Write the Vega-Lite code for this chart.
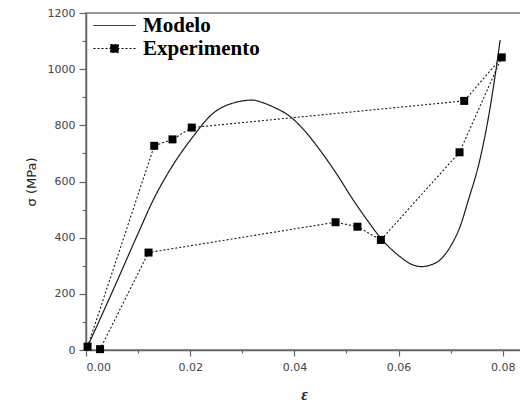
{
  "$schema": "https://vega.github.io/schema/vega-lite/v6.json",
  "width": 436,
  "height": 337,
  "autosize": "none",
  "padding": {"left": 86, "top": 13, "right": 0, "bottom": 57},
  "background": "white",
  "config": {
    "view": {"stroke": "#777", "strokeWidth": 1.5},
    "axis": {"grid": false, "domainColor": "#666", "domainWidth": 1.5, "tickColor": "#666", "tickWidth": 1.2, "labelFont": "DejaVu Sans", "labelFontSize": 11, "labelColor": "#444", "titleColor": "#222"}
  },
  "datasets": {
    "modelo": [
      {"eps": 0, "sigma": 0, "series": "Modelo"},
      {"eps": 0.005, "sigma": 205, "series": "Modelo"},
      {"eps": 0.01, "sigma": 415, "series": "Modelo"},
      {"eps": 0.0129, "sigma": 534, "series": "Modelo"},
      {"eps": 0.0161, "sigma": 641, "series": "Modelo"},
      {"eps": 0.0203, "sigma": 754, "series": "Modelo"},
      {"eps": 0.0244, "sigma": 843, "series": "Modelo"},
      {"eps": 0.028, "sigma": 878, "series": "Modelo"},
      {"eps": 0.0321, "sigma": 890, "series": "Modelo"},
      {"eps": 0.0334, "sigma": 884, "series": "Modelo"},
      {"eps": 0.036, "sigma": 865, "series": "Modelo"},
      {"eps": 0.0392, "sigma": 831, "series": "Modelo"},
      {"eps": 0.042, "sigma": 780, "series": "Modelo"},
      {"eps": 0.0449, "sigma": 712, "series": "Modelo"},
      {"eps": 0.048, "sigma": 630, "series": "Modelo"},
      {"eps": 0.0513, "sigma": 534, "series": "Modelo"},
      {"eps": 0.054, "sigma": 462, "series": "Modelo"},
      {"eps": 0.0566, "sigma": 398, "series": "Modelo"},
      {"eps": 0.0603, "sigma": 332, "series": "Modelo"},
      {"eps": 0.0625, "sigma": 305, "series": "Modelo"},
      {"eps": 0.0644, "sigma": 297, "series": "Modelo"},
      {"eps": 0.066, "sigma": 302, "series": "Modelo"},
      {"eps": 0.0679, "sigma": 320, "series": "Modelo"},
      {"eps": 0.07, "sigma": 370, "series": "Modelo"},
      {"eps": 0.0718, "sigma": 439, "series": "Modelo"},
      {"eps": 0.0734, "sigma": 534, "series": "Modelo"},
      {"eps": 0.0756, "sigma": 677, "series": "Modelo"},
      {"eps": 0.0775, "sigma": 855, "series": "Modelo"},
      {"eps": 0.0785, "sigma": 973, "series": "Modelo"},
      {"eps": 0.0795, "sigma": 1104, "series": "Modelo"}
    ],
    "exp": [
      {"eps": 0.0003, "sigma": 12, "ord": 1, "series": "Experimento"},
      {"eps": 0.0131, "sigma": 727, "ord": 2, "series": "Experimento"},
      {"eps": 0.0166, "sigma": 750, "ord": 3, "series": "Experimento"},
      {"eps": 0.0203, "sigma": 792, "ord": 4, "series": "Experimento"},
      {"eps": 0.0726, "sigma": 887, "ord": 5, "series": "Experimento"},
      {"eps": 0.0798, "sigma": 1042, "ord": 6, "series": "Experimento"},
      {"eps": 0.0717, "sigma": 704, "ord": 7, "series": "Experimento"},
      {"eps": 0.0566, "sigma": 392, "ord": 8, "series": "Experimento"},
      {"eps": 0.0521, "sigma": 439, "ord": 9, "series": "Experimento"},
      {"eps": 0.0479, "sigma": 455, "ord": 10, "series": "Experimento"},
      {"eps": 0.012, "sigma": 347, "ord": 11, "series": "Experimento"},
      {"eps": 0.0027, "sigma": 3, "ord": 12, "series": "Experimento"}
    ]
  },
  "layer": [
    {
      "data": {"name": "modelo"},
      "mark": {"type": "line", "interpolate": "monotone", "color": "#1a1a1a", "strokeWidth": 1.2},
      "encoding": {
        "x": {"field": "eps", "type": "quantitative", "scale": {"domain": [0, 0.08369], "nice": false, "zero": false},
          "axis": {"values": [0, 0.02, 0.04, 0.06, 0.08], "format": ".2f", "tickSize": 6, "labelPadding": 5, "title": "ε", "titleFont": "Liberation Serif", "titleFontStyle": "italic", "titleFontWeight": "bold", "titleFontSize": 16, "titlePadding": 14}},
        "y": {"field": "sigma", "type": "quantitative", "scale": {"domain": [0, 1200], "nice": false},
          "axis": {"values": [0, 200, 400, 600, 800, 1000, 1200], "format": "d", "tickSize": 7, "labelPadding": 4, "title": "σ (MPa)", "titleFont": "DejaVu Sans", "titleFontWeight": "normal", "titleFontSize": 13, "titlePadding": 9}},
        "strokeDash": {"field": "series", "type": "nominal",
          "scale": {"domain": ["Modelo", "Experimento"], "range": [[1, 0], [2, 2]]},
          "legend": {
            "title": null, "orient": "none", "legendX": 7, "legendY": 1.5, "padding": 0,
            "symbolSize": 441, "rowPadding": 2, "labelOffset": 28,
            "symbolStrokeColor": "black", "symbolStrokeWidth": 1,
            "labelFont": "Liberation Serif", "labelFontWeight": "bold", "labelFontSize": 21, "labelColor": "black",
            "encode": {"symbols": {"update": {
              "shape": {"signal": "datum.value == 'Modelo' ? 'M-1,0L3,0' : 'M-1,0L3,0M0.62,-0.38L1.38,-0.38L1.38,0.38L0.62,0.38Z'"},
              "fill": {"signal": "datum.value == 'Modelo' ? 'transparent' : 'black'"},
              "stroke": {"value": "black"}
            }}}
          }}
      }
    },
    {
      "data": {"name": "exp"},
      "mark": {"type": "line", "color": "#1a1a1a", "strokeWidth": 1.1},
      "encoding": {
        "x": {"field": "eps", "type": "quantitative", "axis": null},
        "y": {"field": "sigma", "type": "quantitative", "axis": null},
        "order": {"field": "ord", "type": "quantitative"},
        "strokeDash": {"field": "series", "type": "nominal"}
      }
    },
    {
      "data": {"name": "exp"},
      "mark": {"type": "point", "shape": "square", "filled": true, "color": "black", "size": 64, "opacity": 1},
      "encoding": {
        "x": {"field": "eps", "type": "quantitative",
          "axis": {"orient": "bottom", "values": [0.01, 0.03, 0.05, 0.07], "labels": false, "domain": false, "tickSize": 3, "title": null}},
        "y": {"field": "sigma", "type": "quantitative",
          "axis": {"orient": "left", "values": [100, 300, 500, 700, 900, 1100], "labels": false, "domain": false, "tickSize": 4, "title": null}}
      }
    }
  ],
  "resolve": {"axis": {"x": "independent", "y": "independent"}}
}
